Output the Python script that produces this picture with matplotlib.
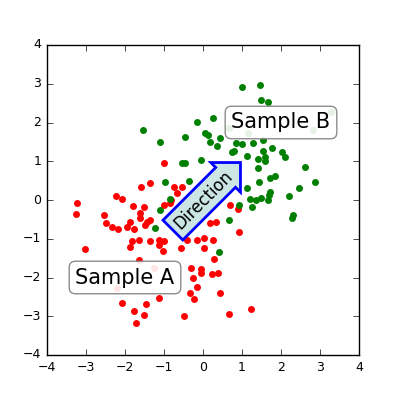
import matplotlib
matplotlib.use("Agg")
import matplotlib.pyplot as plt

plt.style.use("classic")

# values
xa = [-3.23, -3.26, -3.03, -2.54, -2.49, -2.33, -2.18, -2.23, -2.08, -1.95, -1.87, -1.77,
      -1.79, -1.62, -1.62, -1.51, -1.49, -1.44, -1.36, -1.59, -1.36, -1.82, -1.87, -1.64,
      -1.36, -1.13, -1.00, -1.13, -1.03, -1.00, -0.85, -0.82, -0.74, -0.54, -1.00, -0.41,
      -0.56, -0.15, 0.03, 0.03, 0.26, 0.28, -0.31, -0.05, -0.05, 0.23, 0.38, -0.26,
      -0.15, -0.33, -0.23, 0.44, -1.13, -2.08, -1.46, -1.77, -1.51, -1.72, -0.49, 0.67,
      0.92, 0.90, 0.69, 0.18, 0.33, -0.67, -1.64, -1.26, -2.21, 1.23]
ya = [-0.08, -0.36, -1.26, -0.39, -0.59, -0.70, -0.75, 0.10, 0.03, -0.70, -0.57, -0.75,
      -0.15, -0.34, -0.46, -0.18, -0.65, -0.57, -0.52, 0.34, 0.44, -1.06, -1.21, -1.03,
      -1.06, -1.03, -1.06, -1.16, -1.32, -0.13, -0.08, 0.00, 0.34, 0.34, 0.95, -1.03,
      -1.24, -1.03, -0.98, -1.24, -1.03, -1.52, -1.75, -1.78, -1.88, -1.91, -1.88, -2.01,
      -2.25, -2.40, -2.55, -2.40, -2.53, -2.66, -2.68, -2.86, -2.97, -3.17, -2.99, -2.94,
      -0.83, -0.23, -0.13, -0.59, -0.57, 0.18, -1.55, -1.75, -2.27, -2.81]

xb = [1.00, 1.46, 1.49, 1.67, 0.26, -0.15, -1.54, -0.46, 0.05, 0.13, 0.44, -1.10, 0.18,
      0.36, 0.85, 1.00, 1.28, 1.54, 1.77, 1.54, 0.74, 0.79, 1.13, 2.03, 2.10, 1.41, 1.59,
      1.59, -0.54, -0.46, -0.05, 2.62, 1.41, 1.85, 1.72, 2.87, 2.46, 1.44, -0.97, -0.36,
      1.13, 1.72, 1.69, 1.67, 2.21, 1.49, 1.36, 1.21, 1.26, 0.92, 2.31, 2.28, 0.67, -1.10,
      -1.23, -0.85, 0.67, 1.15, 2.82, 0.41, 3.28]
yb = [2.92, 2.97, 2.58, 2.53, 2.12, 2.01, 1.81, 1.63, 1.73, 1.68, 1.60, 1.50, 1.50, 1.39,
      1.47, 1.45, 1.47, 1.55, 1.34, 1.26, 1.24, 1.26, 1.14, 1.24, 1.11, 1.06, 1.11, 1.01,
      0.95, 0.95, 1.03, 0.85, 0.83, 0.62, 0.57, 0.46, 0.31, 0.46, 0.46, 0.49, 0.31, 0.21,
      0.13, 0.00, 0.10, 0.05, 0.00, 0.03, -0.18, -0.13, -0.39, -0.46, -0.52, -0.26, -0.72,
      0.03, 1.86, 1.73, 1.81, -1.34, 2.27]

fig = plt.figure(figsize=(4, 4), dpi=100)
ax = fig.add_axes([0.1175, 0.1125, 0.78, 0.775])
ax.plot(xa, ya, "o", color="r", mec="none", ms=5)
ax.plot(xb, yb, "o", color="g", mec="none", ms=5)
ax.set_xlim(-4, 4)
ax.set_ylim(-4, 4)
ax.tick_params(labelsize=9)

box = dict(boxstyle="round", fc="w", ec="0.5", alpha=0.9)
ax.text(-2, -2, "Sample A", ha="center", va="center", size=15, bbox=box)
ax.text(2, 2, "Sample B", ha="center", va="center", size=15, bbox=box)
ax.text(0, 0, "Direction", ha="center", va="center", rotation=45, size=12,
        bbox=dict(boxstyle="rarrow", fc=(0.8, 0.9, 0.9), ec="b", lw=2))

fig.savefig("out.png", dpi=100)
